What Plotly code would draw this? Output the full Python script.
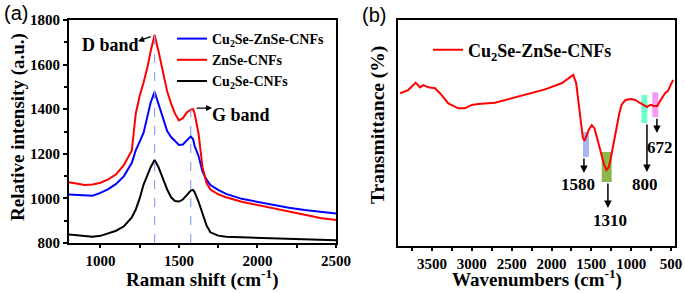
import plotly.graph_objects as go

# ---------------- Panel (a): Raman ----------------
raman_shift = [800, 850, 900, 950, 1000, 1050, 1100, 1150, 1200, 1225, 1250, 1275, 1300, 1320,
               1345, 1370, 1400, 1425, 1450, 1475, 1500, 1525, 1550, 1575, 1590, 1600, 1625,
               1650, 1675, 1700, 1750, 1800, 1900, 2000, 2100, 2200, 2300, 2400, 2500]
int_cu2se_znse = [1018, 1015, 1012, 1012, 1025, 1042, 1065, 1100, 1160, 1215, 1255, 1295, 1370, 1430,
                  1478, 1420, 1350, 1302, 1275, 1255, 1240, 1242, 1258, 1278, 1265, 1235, 1190,
                  1120, 1085, 1060, 1038, 1020, 998, 985, 970, 958, 948, 940, 932]
int_znse = [1072, 1065, 1060, 1062, 1070, 1085, 1108, 1150, 1215, 1380, 1460, 1520, 1590, 1660,
            1733, 1660, 1560, 1480, 1425, 1380, 1350, 1360, 1385, 1398, 1400, 1380, 1290,
            1140, 1070, 1040, 1018, 1005, 985, 970, 955, 940, 925, 912, 903]
int_cu2se = [838, 834, 830, 828, 832, 842, 855, 875, 915, 950, 1000, 1062, 1105, 1140,
             1172, 1140, 1085, 1040, 1005, 988, 986, 995, 1015, 1035, 1038, 1028, 985,
             930, 880, 848, 833, 828, 826, 824, 822, 820, 816, 813, 812]
band_pos = [1345, 1575]
band_top = [1733, 1398]

# ---------------- Panel (b): FTIR ----------------
wavenumber = [3900, 3800, 3735, 3705, 3650, 3609, 3546, 3462, 3400, 3295, 3170, 3086, 3002, 2919,
              2710, 2500, 2333, 2082, 1873, 1727, 1690, 1660, 1632, 1607, 1585, 1560, 1532, 1495,
              1460, 1430, 1400, 1383, 1340, 1310, 1280, 1258, 1220, 1184, 1150, 1122, 1072, 1000,
              947, 900, 850, 800, 785, 750, 720, 672, 640, 600, 573, 540, 510, 474]
transmittance = [67.6, 69.0, 71.2, 72.3, 70.2, 71.2, 70.2, 69.8, 67.6, 63.1, 60.9, 60.9, 62.4, 62.8,
                 63.4, 65.4, 66.8, 69.3, 72.0, 75.7, 72.0, 64.0, 57.0, 48.0, 46.5, 49.0, 51.5, 53.5,
                 52.0, 48.0, 44.0, 41.0, 36.0, 33.6, 35.0, 38.5, 46.0, 52.6, 58.5, 62.4, 64.6, 65.0,
                 64.6, 63.5, 62.5, 61.5, 62.0, 62.5, 62.0, 62.0, 64.0, 66.0, 67.7, 68.5, 70.5, 73.5]
peak_labels = ["1580", "1310", "800", "672"]
peak_colors = ["#a9b4f2", "#8bb84a", "#6fffcf", "#f79af7"]

SERIF = "Liberation Serif"
fig = go.Figure()

fig.add_trace(go.Scatter(x=raman_shift, y=int_cu2se_znse, mode="lines", name="<b>Cu<sub>2</sub>Se-ZnSe-CNFs</b>",
                         line=dict(color="#0000ff", width=2), legend="legend"))
fig.add_trace(go.Scatter(x=raman_shift, y=int_znse, mode="lines", name="<b>ZnSe-CNFs</b>",
                         line=dict(color="#ff0000", width=2), legend="legend"))
fig.add_trace(go.Scatter(x=raman_shift, y=int_cu2se, mode="lines", name="<b>Cu<sub>2</sub>Se-CNFs</b>",
                         line=dict(color="#000000", width=2), legend="legend"))
for bp, bt in zip(band_pos, band_top):
    fig.add_trace(go.Scatter(x=[bp, bp], y=[800, bt], mode="lines", showlegend=False,
                             line=dict(color="#8fa6f2", width=1.2, dash="dash")))

fig.add_trace(go.Scatter(x=wavenumber, y=transmittance, mode="lines", name="<b>Cu<sub>2</sub>Se-ZnSe-CNFs</b>",
                         line=dict(color="#ff0000", width=2), xaxis="x2", yaxis="y2", legend="legend2"))

# highlight rectangles for FTIR peaks: (x0, x1, y0, y1)
rects = [(1605, 1530, 39.4, 50.4), (1370, 1245, 28.3, 41.6), (872, 797, 54.4, 66.8), (735, 660, 57.0, 68.0)]
for (x0, x1, y0, y1), c in zip(rects, peak_colors):
    fig.add_shape(type="rect", xref="x2", yref="y2", x0=x0, x1=x1, y0=y0, y1=y1,
                  fillcolor=c, line=dict(width=0), layer="below")

annos = []
arrows = [(1593, 32.3, 39.4), (1292, 16.8, 28.3), (802, 32.7, 54.4), (677, 50.0, 57.0)]
label_pos = [(1668, 27.4), (1267, 11.5), (827, 27.4), (639, 43.4)]
for (ax_, hy, ty), (lx, ly), lab in zip(arrows, label_pos, peak_labels):
    annos.append(dict(xref="x2", yref="y2", x=ax_, y=hy, axref="x2", ayref="y2", ax=ax_, ay=ty,
                      text="", showarrow=True, arrowhead=2, arrowsize=1, arrowwidth=1.5, arrowcolor="black"))
    annos.append(dict(xref="x2", yref="y2", x=lx, y=ly, text="<b>" + lab + "</b>", showarrow=False,
                      font=dict(family=SERIF, size=17, color="black")))

annos += [
    dict(xref="x", yref="y", x=1240, y=1705, axref="x", ayref="y", ax=1330, ay=1728, text="",
         showarrow=True, arrowhead=2, arrowsize=1, arrowwidth=1.2, arrowcolor="black"),
    dict(xref="x", yref="y", x=1067, y=1688, text="<b>D band</b>", showarrow=False,
         font=dict(family=SERIF, size=18, color="black")),
    dict(xref="x", yref="y", x=1711, y=1405, axref="x", ayref="y", ax=1603, ay=1405, text="",
         showarrow=True, arrowhead=2, arrowsize=1, arrowwidth=1.2, arrowcolor="black"),
    dict(xref="x", yref="y", x=1895, y=1374, text="<b>G band</b>", showarrow=False,
         font=dict(family=SERIF, size=18, color="black")),
    dict(xref="paper", yref="paper", x=2 / 685, y=1 - 13 / 293, text="(a)", showarrow=False,
         xanchor="left", yanchor="middle", font=dict(family="Liberation Sans", size=20, color="black")),
    dict(xref="paper", yref="paper", x=360 / 685, y=1 - 15 / 293, text="(b)", showarrow=False,
         xanchor="left", yanchor="middle", font=dict(family="Liberation Sans", size=20, color="black")),
    # axis titles
    dict(xref="paper", yref="paper", x=18 / 685, y=1 - 127 / 293, text="<b>Relative intensity (a.u.)</b>",
         textangle=-90, showarrow=False, xanchor="center", yanchor="middle",
         font=dict(family=SERIF, size=19, color="black")),
    dict(xref="paper", yref="paper", x=378 / 685, y=1 - 125 / 293, text="<b>Transmittance (%)</b>",
         textangle=-90, showarrow=False, xanchor="center", yanchor="middle",
         font=dict(family=SERIF, size=19.5, color="black")),
    dict(xref="paper", yref="paper", x=202 / 685, y=1 - 293 / 293, text="<b>Raman shift (cm<sup>-1</sup>)</b>",
         showarrow=False, xanchor="center", yanchor="bottom",
         font=dict(family=SERIF, size=19, color="black")),
    dict(xref="paper", yref="paper", x=537 / 685, y=1 - 293 / 293, text="<b>Wavenumbers (cm<sup>-1</sup>)</b>",
         showarrow=False, xanchor="center", yanchor="bottom",
         font=dict(family=SERIF, size=19, color="black")),
]

axis_common = dict(showline=True, linecolor="black", linewidth=2, mirror=True, showgrid=False,
                   zeroline=False, ticks="outside", ticklen=4, tickwidth=1.5, tickcolor="black",
                   automargin=False, tickfont=dict(family=SERIF, size=15, color="black"))

def bold(vals):
    return ["<b>%d</b>" % v for v in vals]

xa_ticks = [1000, 1500, 2000, 2500]
ya_ticks = [800, 1000, 1200, 1400, 1600, 1800]
xb_ticks = [3500, 3000, 2500, 2000, 1500, 1000, 500]

fig.update_layout(
    width=685, height=293, margin=dict(l=0, r=0, t=0, b=0, autoexpand=False),
    paper_bgcolor="white", plot_bgcolor="white",
    font=dict(family=SERIF, color="black"),
    annotations=annos,
    xaxis=dict(axis_common, domain=[69 / 685, 336 / 685], range=[800, 2500],
               tickvals=xa_ticks, ticktext=bold(xa_ticks), ticklen=3,
               minor=dict(dtick=250, ticks="outside", ticklen=3, tickcolor="black"),
               anchor="y"),
    yaxis=dict(axis_common, domain=[1 - 243 / 293, 1 - 20 / 293], range=[800, 1800],
               tickvals=ya_ticks, ticktext=bold(ya_ticks),
               minor=dict(dtick=100, ticks="outside", ticklen=3, tickcolor="black"),
               anchor="x"),
    xaxis2=dict(axis_common, domain=[398 / 685, 675 / 685], range=[3927, 450],
                tickvals=xb_ticks, ticktext=bold(xb_ticks), ticklen=3,
                minor=dict(tickvals=[3750, 3250, 2750, 2250, 1750, 1250, 750], ticks="outside", ticklen=3, tickcolor="black"),
                anchor="y2"),
    yaxis2=dict(axis_common, domain=[1 - 246 / 293, 1 - 20 / 293], range=[0, 100], ticks="",
                showticklabels=False, anchor="x2"),
    legend=dict(x=172 / 685, y=1 - 23 / 293, xanchor="left", yanchor="top", bgcolor="rgba(0,0,0,0)",
                font=dict(family=SERIF, size=14, color="black"), itemwidth=30, tracegroupgap=0),
    legend2=dict(x=428 / 685, y=1 - 50 / 293, xanchor="left", yanchor="middle", bgcolor="rgba(0,0,0,0)",
                 font=dict(family=SERIF, size=18, color="black"), itemwidth=30),
)

fig.write_html("out.html", config={"displayModeBar": False},
               post_script="document.body.style.margin='0';document.body.style.padding='0';")
